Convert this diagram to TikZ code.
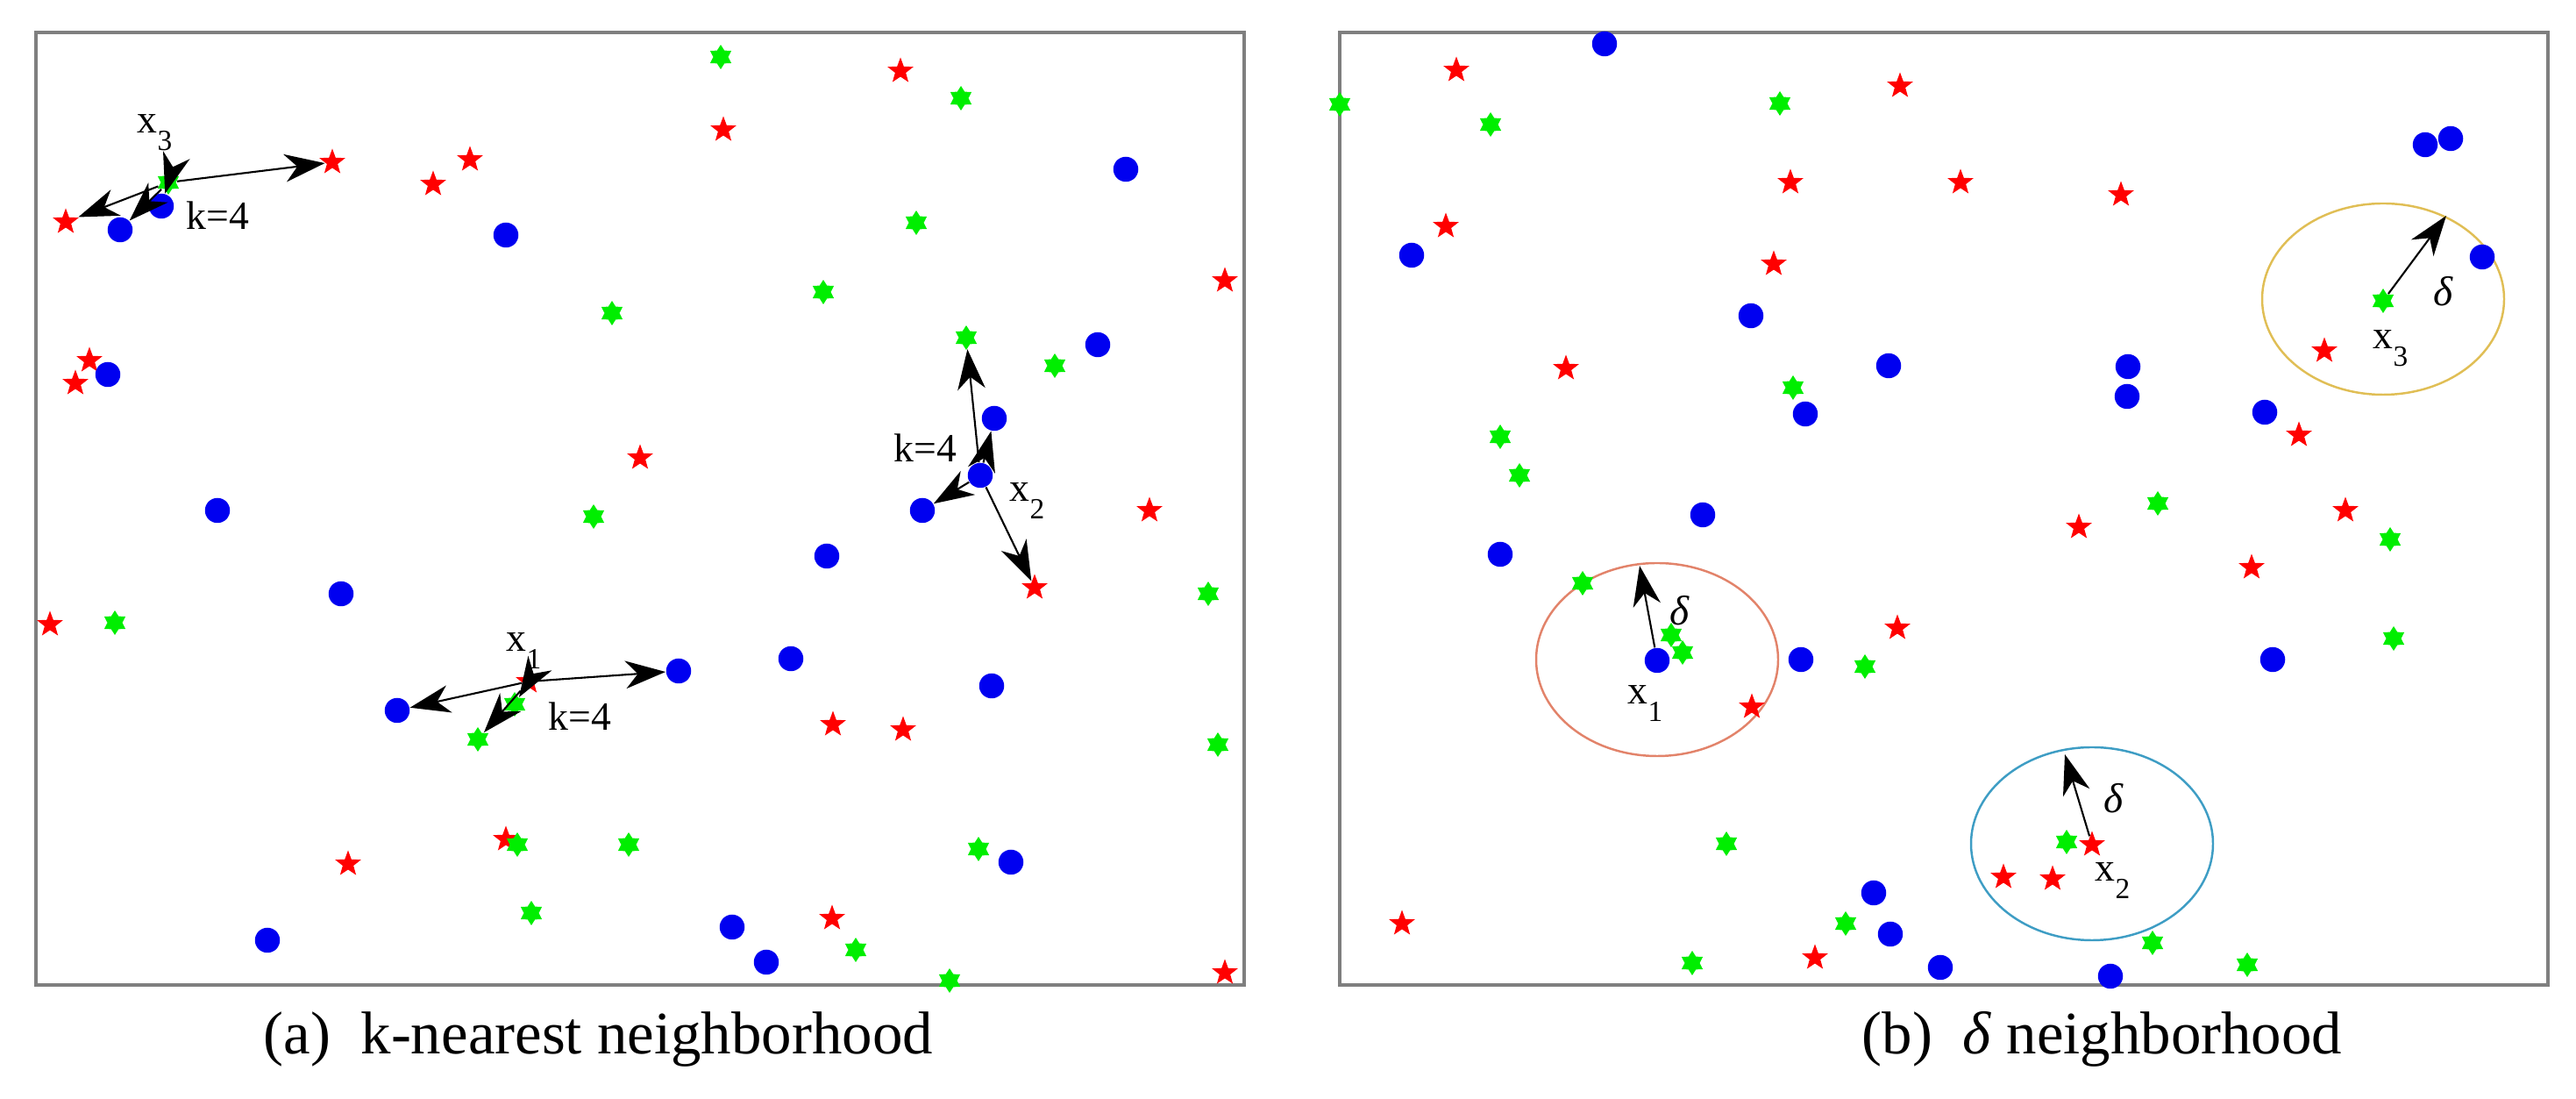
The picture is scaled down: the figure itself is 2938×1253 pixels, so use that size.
\documentclass[tikz,border=0pt]{standalone}
\usepackage{fontspec}
\setmainfont{Liberation Serif}
\usepackage{tikz}
\usetikzlibrary{arrows.meta,shapes.geometric}
\usepackage{xcolor}
\definecolor{ptred}{HTML}{FF0000}
\definecolor{ptgreen}{HTML}{00EE00}
\definecolor{ptblue}{HTML}{0000F0}
\definecolor{framegray}{HTML}{7F7F7F}
\definecolor{ringorange}{HTML}{E2836A}
\definecolor{ringyellow}{HTML}{E0BE55}
\definecolor{ringblue}{HTML}{3E9DC4}
\newcommand{\xsub}[1]{x\raisebox{-5.5pt}{\fontsize{9.5}{10}\selectfont #1}}
\tikzset{
  redpt/.style={star, star points=5, star point ratio=2.4, fill=ptred,
                inner sep=0pt, minimum size=3.1mm},
  greenpt/.style={star, star points=6, star point ratio=1.65, fill=ptgreen,
                  inner sep=0pt, minimum size=2.8mm},
  bluept/.style={circle, fill=ptblue, inner sep=0pt, minimum size=2.85mm},
  frame/.style={draw=framegray, line width=0.9pt},
  ring/.style={line width=0.7pt},
  ar/.style={-{Stealth[length=13pt,width=9pt,inset=4pt]}, line width=0.6pt, draw=black},
  lbl/.style={font=\fontsize{13}{14}\selectfont, inner sep=0pt, anchor=base west},
  dlt/.style={font=\fontsize{13.5}{14}\selectfont\itshape, inner sep=0pt},
  capt/.style={font=\fontsize{19.6}{22}\selectfont, inner sep=0pt, anchor=base west}
}
\begin{document}
\begin{tikzpicture}[x=0.1mm,y=-0.1mm]
  \useasboundingbox (0,0) rectangle (2938,1253);
  \draw[frame] (41,37) rectangle (1419,1123);
  \draw[frame] (1528,37) rectangle (2906,1123);

  % (a) k-nearest
  \foreach \px/\py [count=\i] in {825/148, 1027/81, 536/182, 494/210, 1397/320, 102/411,
      86/437, 730/522, 1311/582, 57/712, 950/826, 1030/832, 397/985, 577/957, 949/1047, 1397/1109}
    \node[redpt] (ar\i) at (\px,\py) {};
  \foreach \px/\py [count=\i] in {822/65, 1096/112, 1045/254, 698/357, 939/333, 1203/417,
      677/589, 131/710, 1378/677, 1389/849, 590/963, 717/963, 1116/968, 606/1041, 976/1083, 1083/1118}
    \node[greenpt] (ag\i) at (\px,\py) {};
  \foreach \px/\py [count=\i] in {577/268, 1284/193, 1252/393, 123/427, 248/582, 389/677,
      943/634, 902/751, 1131/782, 305/1072, 835/1057, 874/1097, 1153/983}
    \node[bluept] (ab\i) at (\px,\py) {};

  \node[greenpt] (ax3) at (192,208) {};
  \node[redpt] (ax3n1) at (379,185) {};
  \node[redpt] (ax3n2) at (75,253) {};
  \node[bluept] (ax3n3) at (137,262) {};
  \node[bluept] (ax3n4) at (184,235) {};

  \node[redpt] (ax1) at (603,777) {};
  \node[bluept] (ax1n1) at (774,765) {};
  \node[bluept] (ax1n2) at (453,810) {};
  \node[greenpt] (ax1n3) at (545,843) {};
  \node[greenpt] (ax1n4) at (587,803) {};

  \node[bluept] (ax2) at (1118,542) {};
  \node[greenpt] (ax2n1) at (1102,385) {};
  \node[bluept] (ax2n2) at (1134,477) {};
  \node[bluept] (ax2n3) at (1052,582) {};
  \node[redpt] (ax2n4) at (1180,670) {};

  \foreach \n in {1,...,4} {
    \draw[ar] (ax3) -- (ax3n\n);
    \draw[ar] (ax1) -- (ax1n\n);
    \draw[ar] (ax2) -- (ax2n\n);
  }

  \node[lbl] (ax3lab) at (156,152) {\xsub{3}};
  \node[lbl] (ax1lab) at (577,743) {\xsub{1}};
  \node[lbl] (ax2lab) at (1151,572) {\xsub{2}};
  \node[lbl] (ak3) at (212,262) {k=4};
  \node[lbl] (ak1) at (625,833) {k=4};
  \node[lbl] (ak2) at (1019,527) {k=4};

  % (b) delta
  \draw[ring, draw=ringorange] (1890,752) ellipse [x radius=138, y radius=110];
  \draw[ring, draw=ringblue] (2386,962) ellipse [x radius=138, y radius=110];
  \draw[ring, draw=ringyellow] (2718,341) ellipse [x radius=138, y radius=109];

  \foreach \px/\py [count=\i] in {1661/80, 2167/98, 2042/208, 2236/208, 2419/222, 1649/258,
      2023/301, 1786/420, 2651/400, 2622/496, 2371/601, 2675/582, 2568/647, 2164/716, 1998/806,
      1599/1053, 2070/1092, 2285/1000, 2341/1002}
    \node[redpt] (br\i) at (\px,\py) {};
  \foreach \px/\py [count=\i] in {1528/119, 1700/142, 2030/118, 2045/442, 1711/498, 1733/542,
      2461/574, 2726/615, 1805/665, 2730/728, 2127/760, 1906/724, 1919/744, 1969/962, 1930/1098,
      2105/1053, 2357/960, 2455/1075, 2563/1100}
    \node[greenpt] (bg\i) at (\px,\py) {};
  \foreach \px/\py [count=\i] in {1830/50, 2766/165, 2795/158, 1610/291, 1997/360, 2831/293,
      2154/417, 2427/418, 2426/452, 2059/472, 2583/470, 1942/587, 1711/632, 2054/752, 2592/752,
      2137/1018, 2156/1065, 2213/1103, 2407/1113}
    \node[bluept] (bb\i) at (\px,\py) {};

  \node[bluept] (bx1) at (1890,753) {};
  \node[redpt] (bx2) at (2386,963) {};
  \node[greenpt] (bx3) at (2718,343) {};
  \coordinate (bd1) at (1870,645);
  \coordinate (bd2) at (2355,860);
  \coordinate (bd3) at (2790,246);
  \draw[ar] (bx1) -- (bd1);
  \draw[ar] (bx2) -- (bd2);
  \draw[ar] (bx3) -- (bd3);

  \node[lbl] (bx1lab) at (1856,803) {\xsub{1}};
  \node[lbl] (bx2lab) at (2389,1005) {\xsub{2}};
  \node[lbl] (bx3lab) at (2706,398) {\xsub{3}};
  \node[dlt] (bdl1) at (1916,696) {δ};
  \node[dlt] (bdl2) at (2411,910) {δ};
  \node[dlt] (bdl3) at (2787,332) {δ};

  \node[capt] (capa) at (300,1202) {(a)~~k-nearest neighborhood};
  \node[capt] (capb) at (2123,1202) {(b)~~\textit{δ}~neighborhood};
\end{tikzpicture}
\end{document}
